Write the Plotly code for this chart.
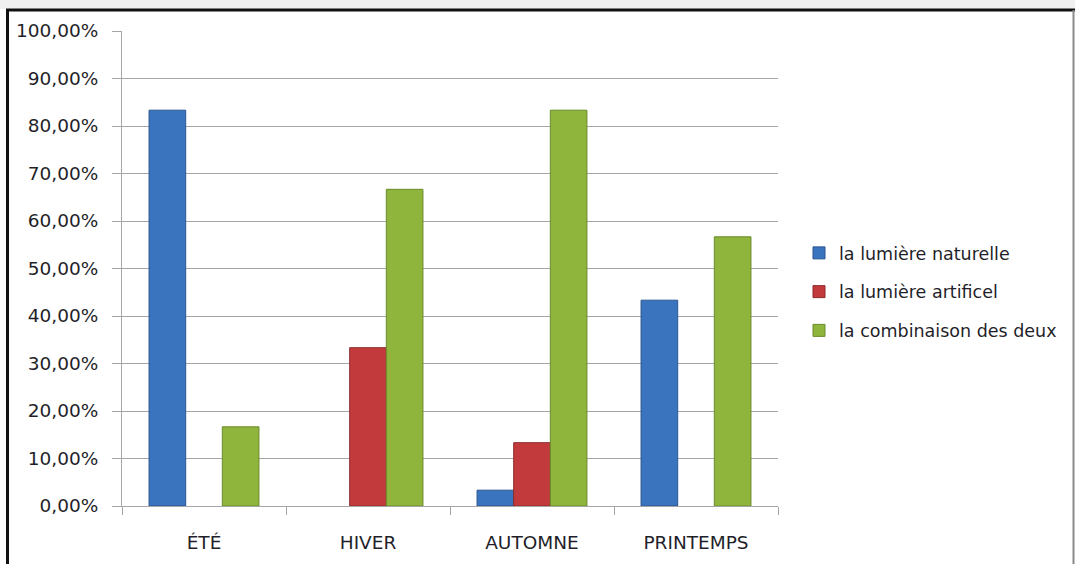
import plotly.graph_objects as go

# Saisons et répartition des réponses (en %)
saisons = ["ÉTÉ", "HIVER", "AUTOMNE", "PRINTEMPS"]
naturelle = [83.33, None, 3.33, 43.33]
artificielle = [None, 33.33, 13.33, None]
combinaison = [16.67, 66.67, 83.33, 56.67]

series_noms = ["la lumière naturelle", "la lumière artificel", "la combinaison des deux"]
series_valeurs = [naturelle, artificielle, combinaison]
couleurs = ["#3a73be", "#c23a3c", "#8fb53c"]
bordures = ["#2a5590", "#8e2a2b", "#6a8a2b"]

tick_vals = [0, 10, 20, 30, 40, 50, 60, 70, 80, 90, 100]
tick_text = ["0,00%", "10,00%", "20,00%", "30,00%", "40,00%", "50,00%",
             "60,00%", "70,00%", "80,00%", "90,00%", "100,00%"]

W, H = 1075, 564
L, R, T, B = 122, 297, 31, 58
pw, ph = W - L - R, H - T - B

fig = go.Figure()
for i, (nom, vals) in enumerate(zip(series_noms, series_valeurs)):
    fig.add_trace(go.Bar(
        x=saisons, y=vals, name=nom, legendgroup=f"g{i}",
        marker=dict(color=couleurs[i], line=dict(color=bordures[i], width=1)),
    ))

def px_x(p):
    return (p - L) / pw

def px_y(p):
    return (H - B - p) / ph

shapes = [
    # bande grise en haut de la fenêtre
    dict(type="rect", xref="paper", yref="paper", x0=px_x(0), x1=px_x(W),
         y0=px_y(9), y1=px_y(0), fillcolor="#f0f0f0", line=dict(width=0), layer="below"),
    # cadre
    dict(type="line", xref="paper", yref="paper", x0=px_x(6), x1=px_x(W),
         y0=px_y(10), y1=px_y(10), line=dict(color="#111111", width=3)),
    dict(type="line", xref="paper", yref="paper", x0=px_x(7.5), x1=px_x(7.5),
         y0=px_y(10), y1=px_y(H), line=dict(color="#111111", width=3)),
    dict(type="line", xref="paper", yref="paper", x0=px_x(1073.5), x1=px_x(1073.5),
         y0=px_y(10), y1=px_y(H), line=dict(color="#8a8a8a", width=2)),
]

police = dict(family="'DejaVu Sans', sans-serif", size=18.5, color="#1f1f2a")
police_legende = dict(family="'DejaVu Sans', sans-serif", size=17.5, color="#1f1f2a")

fig.update_layout(
    width=W, height=H,
    margin=dict(l=L, r=R, t=T, b=B, autoexpand=False),
    paper_bgcolor="white", plot_bgcolor="white",
    barmode="group", bargap=0.33, bargroupgap=0,
    font=police,
    showlegend=True,
    legend=dict(x=px_x(799), y=px_y(292), xanchor="left", yanchor="middle",
                traceorder="grouped", tracegroupgap=13, font=police_legende,
                bgcolor="rgba(0,0,0,0)",
                itemclick=False, itemdoubleclick=False),
    hovermode=False,
    shapes=shapes,
    xaxis=dict(
        showline=True, linecolor="#a6a6a6", linewidth=1,
        ticks="outside", ticklen=8, tickcolor="#a6a6a6", tickson="boundaries",
        ticklabelstandoff=20, showgrid=False, fixedrange=True,
    ),
    yaxis=dict(
        range=[0, 100], tickvals=tick_vals, ticktext=tick_text,
        showline=True, linecolor="#a6a6a6", linewidth=1,
        ticks="outside", ticklen=9, tickcolor="#a6a6a6",
        showgrid=True, gridcolor="#a6a6a6", gridwidth=1,
        zeroline=False, ticklabelstandoff=10, fixedrange=True,
    ),
)

fig.write_html("out.html", config={"displayModeBar": False})
